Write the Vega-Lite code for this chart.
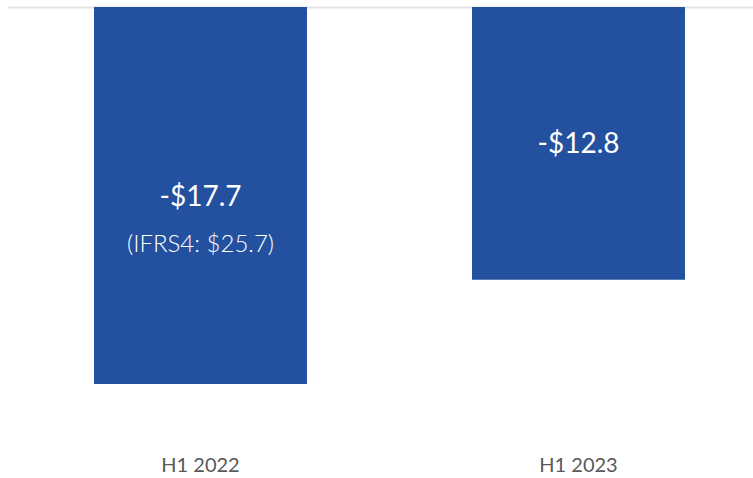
{
  "$schema": "https://vega.github.io/schema/vega-lite/v6.json",
  "autosize": "none",
  "width": 763,
  "height": 426,
  "padding": {"left": 8, "top": 7, "right": 0, "bottom": 45},
  "background": "white",
  "config": {"view": {"stroke": null}, "font": "Lato"},
  "data": {"values": [
    {"period": "H1 2022", "value": -17.7, "label": "-$17.7", "note": "(IFRS4: $25.7)"},
    {"period": "H1 2023", "value": -12.8, "label": "-$12.8", "note": ""}
  ]},
  "transform": [{"calculate": "datum.value / 2", "as": "mid"}],
  "encoding": {
    "x": {"field": "period", "type": "nominal", "sort": null,
      "scale": {"paddingInner": 0.4365, "paddingOuter": 0.2275},
      "axis": {"title": null, "domain": false, "ticks": false, "labelAngle": 0,
        "labelFontSize": 20, "labelColor": "#595959", "labelPadding": 22, "labelFont": "Lato"}}
  },
  "layer": [
    {
      "mark": {"type": "bar", "color": "#2351a0"},
      "encoding": {
        "y": {"field": "value", "type": "quantitative",
          "scale": {"domain": [-20, 0], "nice": false},
          "axis": {"title": null, "labels": false, "ticks": false, "domain": false,
            "values": [0], "grid": true, "gridColor": "#e4e4e4", "gridWidth": 2}}
      }
    },
    {
      "mark": {"type": "text", "color": "white", "fontSize": 28, "baseline": "middle", "font": "Lato", "dy": 2},
      "encoding": {
        "y": {"field": "mid", "type": "quantitative"},
        "text": {"field": "label"}
      }
    },
    {
      "transform": [{"filter": "datum.note != ''"}],
      "mark": {"type": "text", "color": "white", "fontSize": 24, "fontWeight": 300, "baseline": "middle", "dy": 49, "font": "Lato"},
      "encoding": {
        "y": {"field": "mid", "type": "quantitative"},
        "text": {"field": "note"}
      }
    }
  ]
}
